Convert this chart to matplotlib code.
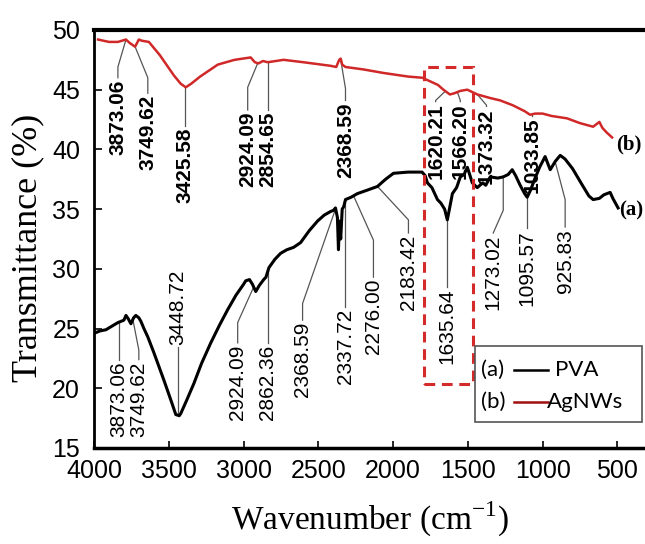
import numpy as np
import matplotlib
matplotlib.use('Agg')
import matplotlib.pyplot as plt
from matplotlib.patches import Rectangle

plt.rcParams['font.family'] = ['Liberation Sans', 'DejaVu Sans']
plt.rcParams['mathtext.fontset'] = 'custom'
plt.rcParams['mathtext.rm'] = 'Liberation Serif'

# (a) PVA spectrum
pva_wn = [4000, 3960, 3920, 3880, 3840, 3800, 3786, 3770, 3753, 3735, 3720, 3700, 3686, 3666,
          3640, 3600, 3533, 3480, 3453, 3430, 3419, 3380, 3332, 3280, 3219, 3160, 3105, 3050,
          3000, 2985, 2960, 2940, 2918, 2895, 2865, 2850, 2830, 2790, 2752, 2710, 2665, 2618,
          2560, 2505, 2460, 2418, 2398, 2385, 2372, 2365, 2358, 2350, 2340, 2330, 2318, 2280,
          2238, 2170, 2104, 2050, 1997, 1900, 1806, 1785, 1770, 1740, 1703, 1680, 1655, 1637,
          1620, 1603, 1575, 1550, 1525, 1503, 1485, 1470, 1437, 1400, 1380, 1350, 1300, 1263,
          1230, 1203, 1180, 1150, 1120, 1103, 1080, 1050, 1020, 983, 949, 915, 882, 850, 800,
          729, 690, 662, 620, 590, 548, 530, 495]
pva_t = [24.6, 24.8, 24.9, 25.2, 25.5, 25.7, 26.1, 25.8, 25.4, 25.9, 26.1, 25.9, 25.6, 25.0,
         24.3, 23.0, 20.7, 18.8, 17.8, 17.7, 17.9, 19.0, 20.4, 22.1, 23.8, 25.3, 26.6, 27.8,
         28.7, 29.0, 29.1, 28.7, 28.1, 28.6, 29.1, 29.3, 30.1, 30.8, 31.3, 31.6, 31.8, 32.2,
         33.2, 34.0, 34.5, 34.8, 34.9, 35.1, 34.3, 31.6, 34.0, 32.5, 35.0, 35.2, 35.8, 36.0,
         36.3, 36.6, 36.9, 37.5, 38.0, 38.1, 38.1, 37.8, 37.2, 36.8, 35.8, 35.5, 35.0, 34.1,
         35.2, 36.3, 36.8, 37.7, 37.9, 38.5, 37.8, 37.2, 36.8, 37.2, 37.0, 37.7, 37.6, 37.7,
         37.9, 38.3, 37.8, 37.0, 36.3, 36.0, 36.6, 37.6, 38.5, 39.4, 38.3, 39.0, 39.5, 39.2,
         38.4, 36.9, 36.1, 35.8, 35.9, 36.2, 36.4, 35.9, 35.1]

# (b) AgNWs spectrum
ag_wn = [3973, 3900, 3840, 3786, 3760, 3725, 3700, 3680, 3633, 3560, 3466, 3420, 3386, 3350,
         3290, 3172, 3060, 2952, 2924, 2900, 2870, 2838, 2732, 2600, 2418, 2380, 2360, 2350,
         2340, 2318, 2200, 2064, 1900, 1804, 1700, 1663, 1620, 1590, 1550, 1503, 1470, 1436,
         1350, 1283, 1200, 1120, 1083, 1050, 1000, 940, 836, 750, 662, 620, 600, 570, 535]
ag_t = [49.2, 49.0, 49.0, 49.2, 48.9, 48.6, 49.2, 49.1, 49.0, 47.9, 46.2, 45.5, 45.2, 45.5,
        46.1, 47.1, 47.5, 47.7, 47.3, 47.2, 47.4, 47.3, 47.5, 47.3, 47.0, 46.9, 47.5, 47.6,
        47.1, 46.9, 46.7, 46.4, 46.1, 46.0, 45.4, 45.0, 44.6, 44.7, 44.9, 45.0, 44.8, 44.6,
        44.3, 44.1, 43.7, 43.2, 42.9, 43.0, 43.0, 42.8, 42.6, 42.2, 41.9, 42.3, 41.8, 41.4, 41.0]

# peak labels: text, point on curve, bend, end of leader
ag_lbl = ['3873.06', '3749.62', '3425.58', '2924.09', '2854.65', '2368.59',
          '1620.21', '1566.20', '1373.32', '1033.85']
ag_tip = [3786, 3725, 3390, 2905, 2838, 2351, 1650, 1570, 1436, 1069]
ag_bend_x = [3840, 3640, 3390, 2972, 2838, 2318, 1715, 1550, 1375, 1069]
ag_bend_y = [46.9, 46.0, 44.5, 45.2, 45.0, 45.1, 44.1, 44.1, 43.7, 42.8]
ag_end_y = [46.0, 44.7, 42.0, 43.3, 43.3, 44.1, 44.0, 44.0, 43.6, 42.8]

pva_lbl = ['3873.06', '3749.62', '3448.72', '2924.09', '2862.36', '2368.59', '2337.72',
           '2276.00', '2183.42', '1635.64', '1273.02', '1095.57', '925.83']
pva_tip = [3833, 3740, 3439, 2932, 2838, 2384, 2318, 2264, 2104, 1637, 1263, 1103, 916]
pva_bend_x = [3833, 3700, 3439, 3039, 2838, 2605, 2318, 2131, 1897, 1637, 1263, 1103, 849]
pva_bend_y = [24.0, 23.2, 20.7, 25.5, 26.0, 27.1, 30.7, 32.4, 34.1, 31.6, 34.9, 34.5, 35.8]
pva_end_x = [3833, 3700, 3439, 3039, 2838, 2605, 2318, 2131, 1897, 1637, 1330, 1103, 849]
pva_end_y = [22.4, 22.4, 23.45, 23.8, 23.8, 25.7, 26.8, 29.3, 33.0, 28.5, 33.0, 33.4, 33.5]

xticks = [4000, 3500, 3000, 2500, 2000, 1500, 1000, 500]
yticks = [15, 20, 25, 30, 35, 40, 45, 50]
box_wn = [1790, 1463]
box_t = [20.35, 46.9]


def peak_label(ax, text, tip, bx, by, ex, ey, wn, t, weight, above=False):
    ty = np.interp(tip, wn[::-1], t[::-1])
    ax.plot([tip, bx, ex], [ty, by, ey], color='#555555', lw=0.9, zorder=2)
    if above:
        ax.text(ex, ey + 0.15, text, rotation=90, ha='center', va='bottom',
                fontsize=15, fontweight=weight)
    else:
        ax.text(ex, ey - 0.15, text, rotation=90, ha='center', va='top',
                fontsize=15, fontweight=weight)


fig = plt.figure(figsize=(6.45, 5.44), dpi=100)
ax = fig.add_axes([0.1457, 0.1765, 0.8543, 0.7684])

wn_a = np.array(pva_wn, float)
t_a = np.array(pva_t, float)
wn_b = np.array(ag_wn, float)
t_b = np.array(ag_t, float)

ax.plot(wn_b, t_b, color='#d02828', lw=1.8, zorder=3)
ax.plot(wn_a, t_a, color='black', lw=2.2, zorder=3)

for i in range(len(ag_lbl)):
    peak_label(ax, ag_lbl[i], ag_tip[i], ag_bend_x[i], ag_bend_y[i], ag_bend_x[i],
               ag_end_y[i], wn_b, t_b, 'bold')
for i in range(len(pva_lbl)):
    peak_label(ax, pva_lbl[i], pva_tip[i], pva_bend_x[i], pva_bend_y[i], pva_end_x[i],
               pva_end_y[i], wn_a, t_a, 'normal', above=(pva_lbl[i] == '3448.72'))

ax.text(505, 40.4, '(b)', fontsize=15, fontweight='bold', family='Liberation Serif',
        ha='left', va='center')
ax.text(490, 34.9, '(a)', fontsize=15, fontweight='bold', family='Liberation Serif',
        ha='left', va='center')

# dashed box around the 1500-1800 region
ax.add_patch(Rectangle((box_wn[0], box_t[0]), box_wn[1] - box_wn[0], box_t[1] - box_t[0],
                       fill=False, ec='#d42a2a', lw=2.2, ls=(0, (3.5, 2.2)), zorder=4))

# legend box
ax.add_patch(Rectangle((0.691, 0.062), 0.304, 0.182, transform=ax.transAxes,
                       fill=True, fc='white', ec='#555555', lw=1.2, zorder=5))
ax.text(0.703, 0.187, '(a)', transform=ax.transAxes, fontsize=16, family='Lato',
        va='center', zorder=6)
ax.plot([0.762, 0.824], [0.187, 0.187], transform=ax.transAxes, color='black', lw=1.8,
        zorder=6)
ax.text(0.836, 0.187, 'PVA', transform=ax.transAxes, fontsize=16, family='Lato',
        va='center', zorder=6)
ax.text(0.703, 0.110, '(b)', transform=ax.transAxes, fontsize=16, family='Lato',
        va='center', zorder=6)
ax.plot([0.762, 0.824], [0.110, 0.110], transform=ax.transAxes, color='#a01010', lw=1.8,
        zorder=6)
ax.text(0.822, 0.110, 'AgNWs', transform=ax.transAxes, fontsize=16, family='Lato',
        va='center', zorder=6)

ax.set_xlim(4000, 315)
ax.set_ylim(15, 50)
ax.set_xticks(xticks)
ax.set_yticks(yticks)
ax.tick_params(axis='both', direction='in', labelsize=18, width=1.2)
ax.tick_params(axis='x', length=5, pad=8)
ax.tick_params(axis='y', length=6, pad=10)
ax.spines['right'].set_visible(False)
ax.spines['top'].set_linewidth(3)
ax.spines['left'].set_linewidth(2)
ax.spines['bottom'].set_linewidth(2.5)

fig.text(0.043, 0.544, 'Transmittance (%)', rotation=90, ha='center', va='center',
         fontsize=26, family='Liberation Serif')
fig.text(0.574, 0.045, 'Wavenumber (cm$^{-1}$)', ha='center', va='center',
         fontsize=24, family='Liberation Serif')

fig.savefig('out.png', dpi=100)
